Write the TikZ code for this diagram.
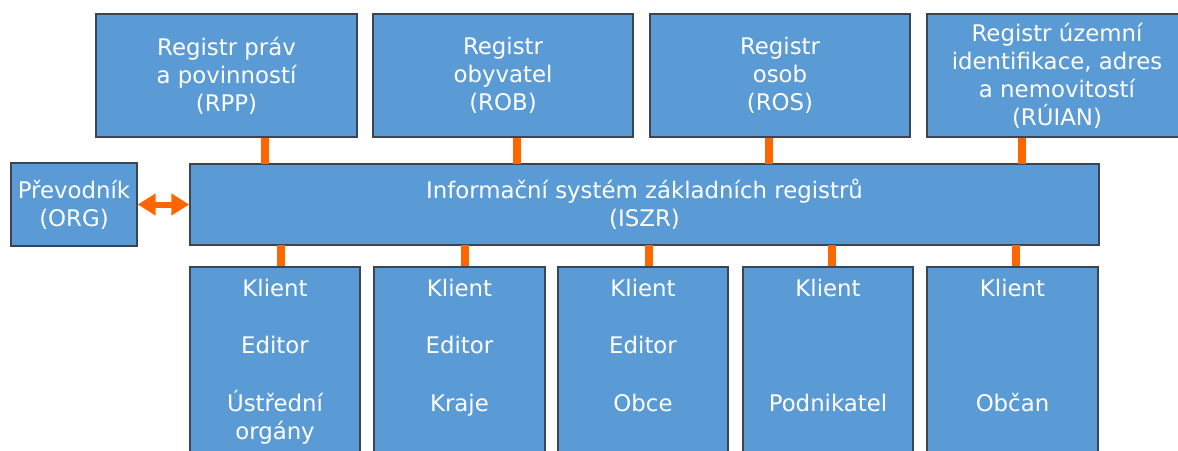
\documentclass[tikz,border=0pt]{standalone}
\usepackage{fontspec}
\setmainfont{DejaVu Sans}
\usetikzlibrary{arrows.meta}
\definecolor{boxblue}{HTML}{5B9BD5}
\definecolor{boxline}{HTML}{3B4450}
\definecolor{linkorange}{HTML}{FF6600}

\begin{document}
\begin{tikzpicture}[
  box/.style={draw=boxline, line width=0.8pt, fill=boxblue, text=white, align=center,
    inner sep=0pt, font=\fontsize{13}{15.9}\selectfont},
  lbl/.style={text=white, align=center, inner sep=0pt, font=\fontsize{13}{15.9}\selectfont},
  link/.style={draw=linkorange, line width=0.15cm},
  dbl/.style={draw=linkorange, line width=0.12cm,
    {Triangle[width=0.42cm,length=0.36cm]}-{Triangle[width=0.42cm,length=0.36cm]}}
]
\useasboundingbox (0,0) rectangle (23.56,-9);

\node[box, minimum width=5.22cm, minimum height=2.46cm] (rpp) at (4.53,-1.51) {Registr práv\\a povinností\\(RPP)};
\node[box, minimum width=5.2cm, minimum height=2.46cm] (rob) at (10.06,-1.51) {Registr\\obyvatel\\(ROB)};
\node[box, minimum width=5.2cm, minimum height=2.46cm] (ros) at (15.6,-1.51) {Registr\\osob\\(ROS)};
\node[box, minimum width=5.2cm, minimum height=2.46cm] (ruian) at (21.14,-1.51) {Registr územní\\identifikace, adres\\a nemovitostí\\(RÚIAN)};

\node[box, minimum width=18.18cm, minimum height=1.62cm] (iszr) at (12.89,-4.09) {Informační systém základních registrů\\(ISZR)};
\node[box, minimum width=2.52cm, minimum height=1.66cm] (org) at (1.48,-4.09) {Převodník\\(ORG)};

\node[box, minimum width=3.4cm, minimum height=4.06cm] (k1) at (5.5,-7.37) {};
\node[box, minimum width=3.42cm, minimum height=4.06cm] (k2) at (9.19,-7.37) {};
\node[box, minimum width=3.4cm, minimum height=4.06cm] (k3) at (12.86,-7.37) {};
\node[box, minimum width=3.4cm, minimum height=4.06cm] (k4) at (16.56,-7.37) {};
\node[box, minimum width=3.42cm, minimum height=4.06cm] (k5) at (20.25,-7.37) {};

\node[lbl, anchor=north] (k1t) at ([yshift=-0.24cm]k1.north) {Klient\\[0.6cm]Editor\\[0.6cm]Ústřední\\orgány};
\node[lbl, anchor=north] (k2t) at ([yshift=-0.24cm]k2.north) {Klient\\[0.6cm]Editor\\[0.6cm]Kraje};
\node[lbl, anchor=north] (k3t) at ([yshift=-0.24cm]k3.north) {Klient\\[0.6cm]Editor\\[0.6cm]Obce};
\node[lbl, anchor=north] (k4t) at ([yshift=-0.24cm]k4.north) {Klient\\[0.6cm]~\\[0.6cm]Podnikatel};
\node[lbl, anchor=north] (k5t) at ([yshift=-0.24cm]k5.north) {Klient\\[0.6cm]~\\[0.6cm]Občan};

\coordinate (t1) at (5.30,-3.28);
\coordinate (t2) at (10.34,-3.28);
\coordinate (t3) at (15.38,-3.28);
\coordinate (t4) at (20.44,-3.28);
\coordinate (b1) at (5.62,-4.9);
\coordinate (b2) at (9.30,-4.9);
\coordinate (b3) at (12.98,-4.9);
\coordinate (b4) at (16.64,-4.9);
\coordinate (b5) at (20.32,-4.9);

\draw[link] (t1) -- (t1 |- rpp.south) (t2) -- (t2 |- rob.south) (t3) -- (t3 |- ros.south) (t4) -- (t4 |- ruian.south);
\draw[link] (b1) -- (b1 |- k1.north) (b2) -- (b2 |- k2.north) (b3) -- (b3 |- k3.north) (b4) -- (b4 |- k4.north) (b5) -- (b5 |- k5.north);
\draw[dbl] (org) -- (iszr);
\end{tikzpicture}
\end{document}
